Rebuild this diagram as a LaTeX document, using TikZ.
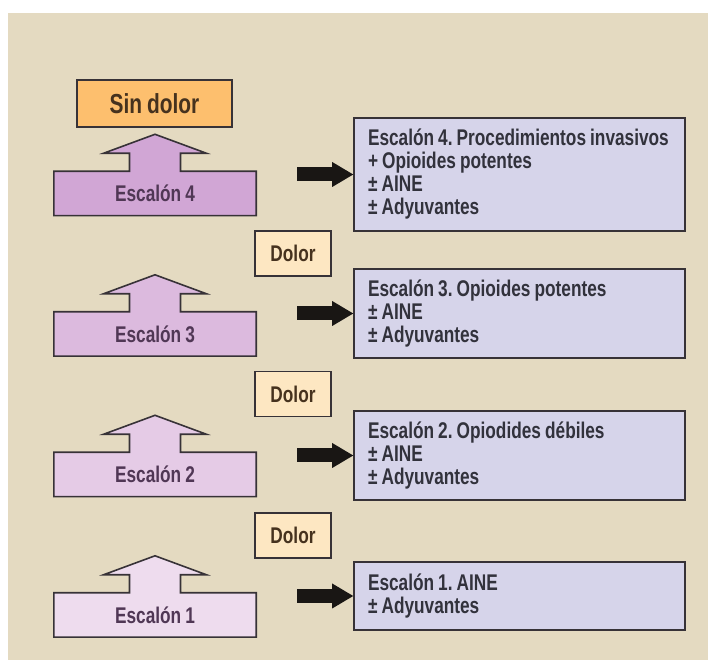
\documentclass[tikz,border=0pt]{standalone}
\usepackage{fontspec}
\setmainfont{Liberation Sans}[FakeStretch=0.76, WordSpace=0.85]
\usepackage{tikz}
\usetikzlibrary{positioning,arrows.meta,backgrounds}

\definecolor{bgbeige}{RGB}{228,218,193}
\definecolor{edge}{RGB}{55,50,55}
\definecolor{sinfill}{RGB}{253,191,110}
\definecolor{painfill}{RGB}{253,231,194}
\definecolor{drugfill}{RGB}{214,212,234}
\definecolor{esc4fill}{RGB}{209,166,213}
\definecolor{esc3fill}{RGB}{220,186,222}
\definecolor{esc2fill}{RGB}{229,203,230}
\definecolor{esc1fill}{RGB}{238,220,238}
\definecolor{steptext}{RGB}{80,55,85}
\definecolor{drugtext}{RGB}{50,50,60}
\definecolor{paintext}{RGB}{70,50,30}
\definecolor{arrowblack}{RGB}{25,22,20}

\frenchspacing

\begin{document}
\begin{tikzpicture}[
  x=1pt, y=1pt,
  font=\fontsize{22.7}{23}\selectfont\bfseries,
  stepbase/.style={
    rectangle, minimum width=202pt, minimum height=44pt, inner sep=0pt,
    text=steptext
  },
  stepshape/.style={draw=edge, line width=1.6pt, line join=miter},
  drug/.style={
    rectangle, draw=edge, line width=1.6pt, fill=drugfill,
    text width=303pt, inner xsep=14pt, align=flush left, text=drugtext
  },
  pain/.style={
    rectangle, draw=edge, line width=1.6pt, fill=painfill,
    minimum width=76pt, minimum height=45pt, text=paintext
  },
  arrow/.style={line width=14pt, arrowblack,
    -{Triangle[width=25pt, length=21pt, line width=0pt]}}
]

\useasboundingbox (0,0) rectangle (708,660);

% === Background ===
\begin{scope}[on background layer]
  \fill[bgbeige] (8,0) rectangle (708,647);
\end{scope}

% === Goal box ===
\node[pain, fill=sinfill, minimum width=155pt, minimum height=47pt,
  font=\fontsize{27.5}{29}\selectfont\bfseries] (sindolor) at (154.5,556.5) {Sin dolor};

% === Step labels ===
\node[stepbase] (esc4) at (155,466.5) {Escalón 4};
\node[stepbase] (esc3) at (155,326) {Escalón 3};
\node[stepbase] (esc2) at (155,185.5) {Escalón 2};
\node[stepbase] (esc1) at (155,45) {Escalón 1};

% === Step outlines (base + up arrow) ===
\begin{scope}[on background layer]
  \draw[stepshape, fill=esc4fill] (esc4.south west) -- (esc4.north west)
    -- ([xshift=-25.5pt]esc4.north) -- ++(0,18) -- ++(-26,0) -- ++(51.5,19)
    -- ++(51.5,-19) -- ++(-26,0) -- ++(0,-18) -- (esc4.north east)
    -- (esc4.south east) -- cycle;
  \draw[stepshape, fill=esc3fill] (esc3.south west) -- (esc3.north west)
    -- ([xshift=-25.5pt]esc3.north) -- ++(0,18) -- ++(-26,0) -- ++(51.5,19)
    -- ++(51.5,-19) -- ++(-26,0) -- ++(0,-18) -- (esc3.north east)
    -- (esc3.south east) -- cycle;
  \draw[stepshape, fill=esc2fill] (esc2.south west) -- (esc2.north west)
    -- ([xshift=-25.5pt]esc2.north) -- ++(0,18) -- ++(-26,0) -- ++(51.5,19)
    -- ++(51.5,-19) -- ++(-26,0) -- ++(0,-18) -- (esc2.north east)
    -- (esc2.south east) -- cycle;
  \draw[stepshape, fill=esc1fill] (esc1.south west) -- (esc1.north west)
    -- ([xshift=-25.5pt]esc1.north) -- ++(0,18) -- ++(-26,0) -- ++(51.5,19)
    -- ++(51.5,-19) -- ++(-26,0) -- ++(0,-18) -- (esc1.north east)
    -- (esc1.south east) -- cycle;
\end{scope}

% === Pain boxes ===
\node[pain] (dolor3) at (293,406.5) {Dolor};
\node[pain] (dolor2) at (293,266) {Dolor};
\node[pain] (dolor1) at (293,124.5) {Dolor};

% === Treatment boxes ===
\node[drug, minimum height=113pt] (box4) at (519.5,485.5)
  {Escalón 4. Procedimientos invasivos\\+ Opioides potentes\\± AINE\\± Adyuvantes};
\node[drug, minimum height=89pt] (box3) at (519.5,346.5)
  {Escalón 3. Opioides potentes\\± AINE\\± Adyuvantes};
\node[drug, minimum height=89pt] (box2) at (519.5,204.5)
  {Escalón 2. Opiodides débiles\\± AINE\\± Adyuvantes};
\node[drug, minimum height=68pt] (box1) at (519.5,64)
  {Escalón 1. AINE\\± Adyuvantes};

% === Step to treatment arrows ===
\coordinate (a4) at ([xshift=-56pt]box4.west);
\coordinate (a3) at ([xshift=-56pt]box3.west);
\coordinate (a2) at ([xshift=-56pt]box2.west);
\coordinate (a1) at ([xshift=-56pt]box1.west);
\draw[arrow] (a4) -- (box4.west);
\draw[arrow] (a3) -- (box3.west);
\draw[arrow] (a2) -- (box2.west);
\draw[arrow] (a1) -- (box1.west);

\end{tikzpicture}
\end{document}
